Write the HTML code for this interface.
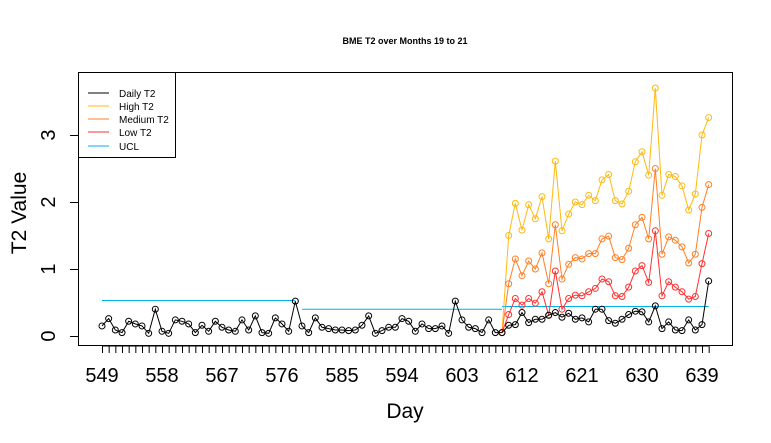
<!DOCTYPE html>
<html><head><meta charset="utf-8"><style>body{margin:0;background:#fff}svg{display:block;font-family:"Liberation Sans",sans-serif}</style></head>
<body>
<svg id="chart" width="771" height="443" viewBox="0 0 771 443" xmlns="http://www.w3.org/2000/svg">
<rect width="771" height="443" fill="#fff"/>
<text x="405" y="44" font-size="9" font-weight="bold" text-anchor="middle">BME T2 over Months 19 to 21</text>
<rect x="78.5" y="72.5" width="654" height="273" fill="none" stroke="#000"/>
<text x="405" y="418" font-size="21" text-anchor="middle">Day</text>
<text transform="translate(26,213) rotate(-90)" font-size="21" text-anchor="middle">T2 Value</text>
<g id="axes"></g>
<g id="marks"></g>
<g>
<rect x="78.5" y="72.5" width="97" height="85" fill="#fff" stroke="#000"/>
<g font-size="10">
<line x1="88" x2="109" y1="93" y2="93" stroke="#000"/><text x="119" y="97">Daily T2</text>
<line x1="88" x2="109" y1="106" y2="106" stroke="#FFB90F"/><text x="119" y="110">High T2</text>
<line x1="88" x2="109" y1="119" y2="119" stroke="#FF7F24"/><text x="119" y="123">Medium T2</text>
<line x1="88" x2="109" y1="132" y2="132" stroke="#FF3030"/><text x="119" y="136">Low T2</text>
<line x1="88" x2="109" y1="146" y2="146" stroke="#00B2EE"/><text x="119" y="150">UCL</text>
</g></g>
</svg>
<script>
const startDay = 549;
const daily = [0.15,0.26,0.09,0.05,0.22,0.18,0.15,0.04,0.40,0.07,0.04,0.24,0.22,0.18,0.05,0.16,0.07,0.22,0.13,0.09,0.07,0.24,0.09,0.30,0.05,0.04,0.27,0.18,0.07,0.52,0.15,0.05,0.27,0.13,0.11,0.09,0.09,0.08,0.09,0.16,0.30,0.04,0.08,0.13,0.13,0.26,0.22,0.07,0.18,0.11,0.11,0.15,0.04,0.52,0.24,0.13,0.11,0.05,0.24,0.05,0.05,
0.16,0.17,0.35,0.20,0.25,0.25,0.31,0.35,0.28,0.34,0.25,0.27,0.21,0.40,0.40,0.23,0.19,0.25,0.32,0.37,0.36,0.21,0.45,0.11,0.21,0.09,0.08,0.24,0.09,0.17,0.82];
const seriesStart = 609;
const high = [0.05,1.50,1.98,1.58,1.96,1.75,2.08,1.45,2.61,1.57,1.82,2.00,1.96,2.10,2.02,2.33,2.41,2.02,1.97,2.16,2.60,2.75,2.40,3.70,2.10,2.41,2.38,2.24,1.88,2.12,3.00,3.26];
const medium = [0.05,0.78,1.15,0.90,1.12,1.00,1.24,0.78,1.66,0.85,1.07,1.17,1.15,1.23,1.23,1.45,1.49,1.17,1.14,1.31,1.66,1.77,1.45,2.50,1.22,1.48,1.43,1.33,1.09,1.22,1.92,2.26];
const low = [0.05,0.32,0.56,0.46,0.56,0.49,0.66,0.31,0.97,0.40,0.56,0.61,0.60,0.66,0.71,0.85,0.81,0.60,0.59,0.73,0.97,1.05,0.80,1.57,0.60,0.81,0.73,0.66,0.55,0.59,1.08,1.53];
const uclStarts = [549,579,609];
const uclEnds = [578,609,640];
const uclValues = [0.53,0.40,0.44];
const yTicks = [0,1,2,3];
const xLabelStep = 9;
const xLast = 640;

const X = d => 102 + (d - 549) * (600/90);
const Y = v => 336 - v * 67;
const NS = 'http://www.w3.org/2000/svg';
function mk(tag, attrs, parent){const e=document.createElementNS(NS,tag);for(const k in attrs)e.setAttribute(k,attrs[k]);parent.appendChild(e);return e;}
const axes = document.getElementById('axes');
const marks = document.getElementById('marks');
mk('line',{x1:X(549),x2:X(xLast),y1:346,y2:346,stroke:'#000'},axes);
for(let d=549; d<=xLast; d++){
  const t = mk('line',{x1:X(d)+0.5,x2:X(d)+0.5,y1:346,y2:353,stroke:'#000'},axes);
  
  
  if((d-549)%xLabelStep===0){
    const l = mk('text',{x:X(d),y:382,'font-size':20,'text-anchor':'middle'},axes);
    l.textContent = d;
    
    
  }
}
mk('line',{x1:78.5,x2:78.5,y1:Y(0),y2:Y(3),stroke:'#000'},axes);
yTicks.forEach(v=>{
  const t = mk('line',{x1:70,x2:78.5,y1:Y(v)+0.5,y2:Y(v)+0.5,stroke:'#000'},axes);
  
  
  const l = mk('text',{transform:`translate(55,${Y(v)}) rotate(-90)`,'font-size':20,'text-anchor':'middle'},axes);
  l.textContent = v;
  
  
});
uclValues.forEach((v,i)=>{
  const u = mk('line',{x1:X(uclStarts[i]),x2:X(uclEnds[i]),y1:Y(v),y2:Y(v),stroke:'#00B2EE'},marks);
  
  
});
function series(vals, start, color, name){
  const g = mk('g',{},marks);
  
  
  const pts = vals.map((v,i)=>X(start+i).toFixed(1)+','+Y(v).toFixed(1)).join(' ');
  mk('polyline',{points:pts,fill:'none',stroke:color,'stroke-width':1},g);
  vals.forEach((v,i)=>{
    const c = mk('circle',{cx:X(start+i),cy:Y(v),r:3,fill:'none',stroke:color},g);
    
    
  });
}
series(high, seriesStart, '#FFB90F', 'high-t2');
series(medium, seriesStart, '#FF7F24', 'medium-t2');
series(low, seriesStart, '#FF3030', 'low-t2');
series(daily, startDay, '#000', 'daily-t2');
</script>
</body></html>
